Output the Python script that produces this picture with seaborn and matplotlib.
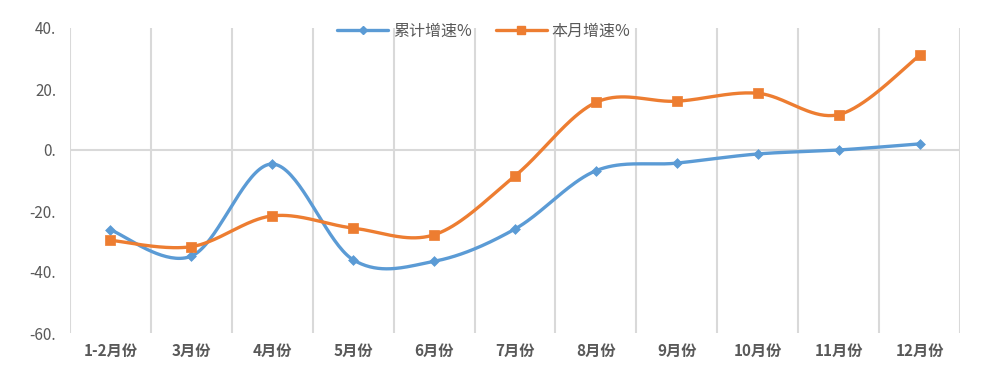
import numpy as np
import pandas as pd
import matplotlib
matplotlib.use('Agg')
import matplotlib.pyplot as plt
import seaborn as sns
from matplotlib.lines import Line2D

months = ['1-2月份', '3月份', '4月份', '5月份', '6月份', '7月份',
          '8月份', '9月份', '10月份', '11月份', '12月份']
cum_growth = [-26.2, -34.8, -4.6, -36.0, -36.5, -25.9, -6.8, -4.3, -1.3, 0.0, 2.0]
month_growth = [-29.6, -31.7, -21.6, -25.6, -27.8, -8.5, 15.6, 16.0, 18.6, 11.6, 31.0]
series_names = ['累计增速%', '本月增速%']
y_ticks = [-60, -40, -20, 0, 20, 40]

sns.set_theme(style='white')
plt.rcParams['font.family'] = ['Noto Sans CJK SC', 'DejaVu Sans']

BLUE = '#5B9BD5'
ORANGE = '#ED7D31'
GRID = '#D9D9D9'
TXT = '#595959'


def smooth(xs, ys, n=40):
    # Excel style smoothed line (Catmull-Rom bezier)
    xs = np.asarray(xs, float)
    ys = np.asarray(ys, float)
    px = np.concatenate([[xs[0]], xs, [xs[-1]]])
    py = np.concatenate([[ys[0]], ys, [ys[-1]]])
    ox, oy = [], []
    t = np.linspace(0, 1, n)
    for i in range(1, len(px) - 2):
        p0 = np.array([px[i], py[i]])
        p3 = np.array([px[i + 1], py[i + 1]])
        p1 = p0 + (np.array([px[i + 1], py[i + 1]]) - np.array([px[i - 1], py[i - 1]])) / 6
        p2 = p3 - (np.array([px[i + 2], py[i + 2]]) - np.array([px[i], py[i]])) / 6
        b = ((1 - t) ** 3)[:, None] * p0 + (3 * (1 - t) ** 2 * t)[:, None] * p1 \
            + (3 * (1 - t) * t ** 2)[:, None] * p2 + (t ** 3)[:, None] * p3
        ox.extend(b[:, 0])
        oy.extend(b[:, 1])
    return np.array(ox), np.array(oy)


df = pd.DataFrame({'x': np.arange(len(months)), 'cum': cum_growth, 'mon': month_growth})

fig = plt.figure(figsize=(9.85, 3.79), dpi=100)
ax = fig.add_axes([70 / 985, 46 / 379, 890 / 985, 305 / 379])

for xb in np.arange(-0.5, len(months), 1.0):
    ax.axvline(xb, color=GRID, lw=1.5, zorder=0)
ax.axhline(0, color=GRID, lw=1.5, zorder=0)

for col, color, mk, ms in [('cum', BLUE, 'D', 5), ('mon', ORANGE, 's', 6.5)]:
    sx, sy = smooth(df['x'], df[col])
    ax.plot(sx, sy, color=color, lw=2.4, solid_capstyle='round', zorder=2)
    sns.scatterplot(data=df, x='x', y=col, ax=ax, color=color, marker=mk,
                    s=ms ** 2, edgecolor=color, linewidth=0.5, zorder=3, legend=False)

ax.set_xlim(-0.5, len(months) - 0.5)
ax.set_ylim(-60, 40)
ax.set_yticks(y_ticks)
ax.set_yticklabels([f'{v}.' for v in y_ticks], color=TXT, fontsize=11)
ax.set_xticks(df['x'])
ax.set_xticklabels(months, color=TXT, fontsize=11, fontweight='bold')
ax.tick_params(axis='both', length=0)
ax.tick_params(axis='x', pad=7)
ax.tick_params(axis='y', pad=10)
ax.set_xlabel('')
ax.set_ylabel('')
for s in ax.spines.values():
    s.set_visible(False)

handles = [Line2D([0], [0], color=BLUE, lw=2.4, marker='D', markersize=4),
           Line2D([0], [0], color=ORANGE, lw=2.4, marker='s', markersize=6)]
leg = ax.legend(handles, series_names, loc='center', bbox_to_anchor=(0.465, 0.99),
                ncol=2, frameon=False, fontsize=11.5, handlelength=3.2,
                columnspacing=1.5, handletextpad=0.3)
for t in leg.get_texts():
    t.set_color(TXT)

fig.savefig('out.png', dpi=100, facecolor='white')
